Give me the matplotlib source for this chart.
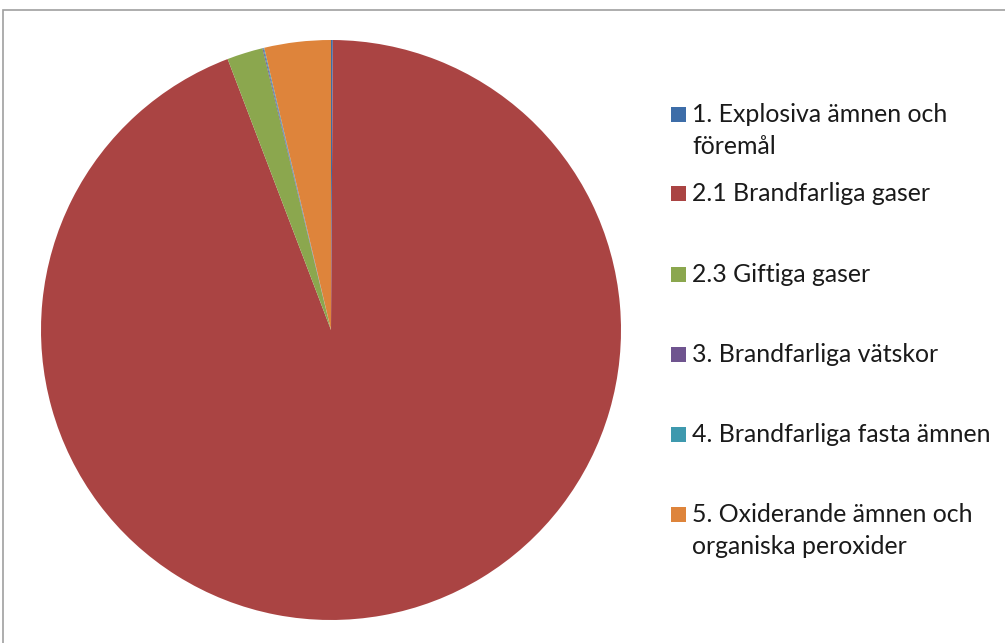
import matplotlib.pyplot as plt
from matplotlib.patches import Rectangle

labels = ["1. Explosiva ämnen och\nföremål", "2.1 Brandfarliga gaser", "2.3 Giftiga gaser",
          "3. Brandfarliga vätskor", "4. Brandfarliga fasta ämnen",
          "5. Oxiderande ämnen och\norganiska peroxider"]
values = [0.1, 94.1, 2.0, 0.05, 0.05, 3.7]
colors = ["#3D6DA8", "#AA4443", "#8BA74E", "#6F548F", "#3E99AE", "#DE843B"]

W, H = 1005, 643
fig = plt.figure(figsize=(W / 100, H / 100), dpi=100)
plt.rcParams['font.family'] = ['Lato', 'DejaVu Sans']

# pie: center (331, 330) px, radius 290 px
cx, cy, r = 331, 330, 290
ax = fig.add_axes([(cx - r) / W, (H - cy - r) / H, 2 * r / W, 2 * r / H])
ax.pie(values, colors=colors, startangle=90, counterclock=False, radius=1,
       wedgeprops=dict(linewidth=0))
ax.set_xlim(-1, 1)
ax.set_ylim(-1, 1)
ax.set_axis_off()

# chart area border (runs off the right and bottom edge)
fig.patches.append(Rectangle((3 / W, -0.1), 1.2, 1 - 10 / H + 0.1, transform=fig.transFigure,
                             fill=False, edgecolor="#A0A0A0", linewidth=1.2))

# legend, laid out like the original (baseline of first line, px)
baselines = [122, 201, 282, 362, 442, 522]
line_pitch = 32.5
for lab, col, y in zip(labels, colors, baselines):
    fig.patches.append(Rectangle((671 / W, 1 - y / H), 15 / W, 15 / H,
                                 transform=fig.transFigure, facecolor=col, edgecolor="none"))
    for i, line in enumerate(lab.split("\n")):
        fig.text(692 / W, 1 - (y + i * line_pitch) / H, line, fontsize=17.9,
                 color="#1a1a1a", va="baseline", ha="left")

fig.savefig("out.png", dpi=100, facecolor="white")
